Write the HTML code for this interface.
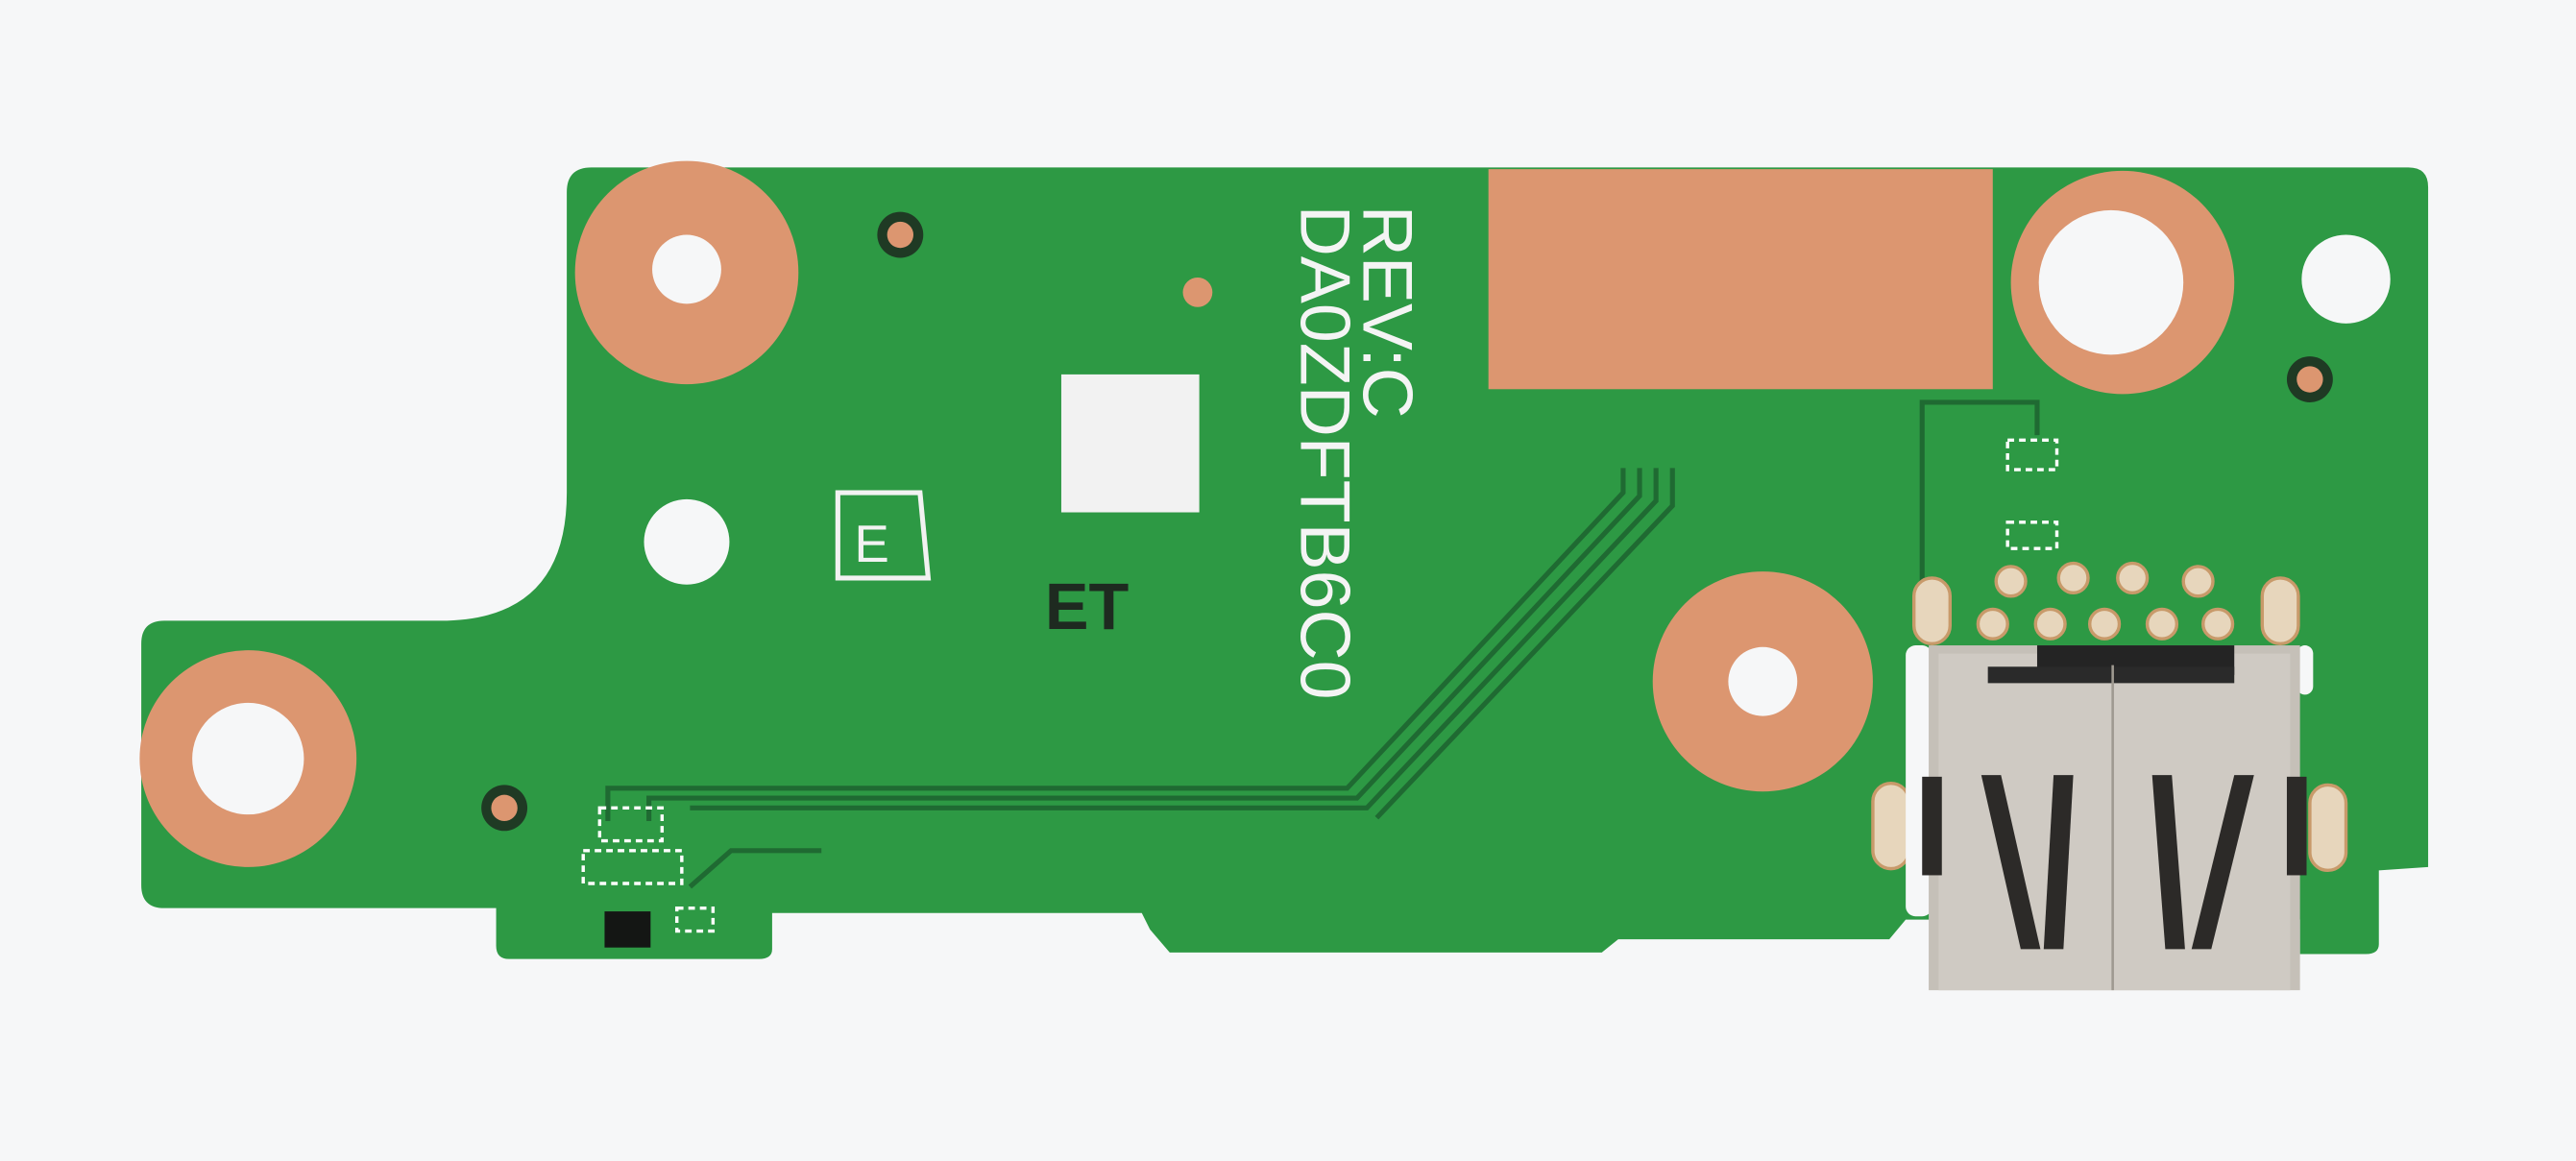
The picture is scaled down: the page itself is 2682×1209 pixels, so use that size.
<!DOCTYPE html>
<html><head><meta charset="utf-8"><style>
html,body{margin:0;padding:0;background:#f6f7f8;}
svg{display:block;}
</style></head><body>
<svg width="2682" height="1209" viewBox="0 0 1568 707" preserveAspectRatio="none" xmlns="http://www.w3.org/2000/svg">
<rect width="1568" height="707" fill="#f6f7f8"/>
<path d="M360 102 L1466 102 Q1478 102 1478 114 L1478 528 L1448 530 L1448 575 Q1448 581 1440 581 L1400 581 L1400 560 L1160 560 L1150 572 L985 572 L975 580 L712 580 L700 566 L695 556 L470 556 L470 578 Q470 584 462 584 L310 584 Q302 584 302 576 L302 553 L100 553 Q86 553 86 539 L86 392 Q86 378 100 378 L268 378 Q345 378 345 300 L345 117 Q345 102 360 102 Z" fill="#2d9944"/>
<circle cx="418" cy="166" r="68" fill="#dc9670"/><circle cx="418" cy="164" r="21" fill="#f6f7f8"/>
<circle cx="151" cy="462" r="66" fill="#dc9670"/><circle cx="151" cy="462" r="34" fill="#f6f7f8"/>
<circle cx="1073" cy="415" r="67" fill="#dc9670"/><circle cx="1073" cy="415" r="21" fill="#f6f7f8"/>
<circle cx="1292" cy="172" r="68" fill="#dc9670"/><circle cx="1285" cy="172" r="44" fill="#f6f7f8"/>
<circle cx="1428" cy="170" r="27" fill="#f6f7f8"/>
<circle cx="418" cy="330" r="26" fill="#f6f7f8"/>
<rect x="906" y="103" width="307" height="134" fill="#dc9670"/>
<circle cx="548" cy="143" r="14" fill="#1f3a24"/><circle cx="548" cy="143" r="8" fill="#dc9670"/>
<circle cx="729" cy="178" r="9" fill="#dc9670"/>
<circle cx="1406" cy="231" r="14" fill="#1f3a24"/><circle cx="1406" cy="231" r="8" fill="#dc9670"/>
<circle cx="307" cy="492" r="14" fill="#1f3a24"/><circle cx="307" cy="492" r="8" fill="#dc9670"/>
<rect x="646" y="228" width="84" height="84" fill="#f2f2f2"/>
<path d="M510 300 L560 300 L565 352 L510 352 Z" fill="none" stroke="#f2f2f2" stroke-width="3"/>
<text x="520" y="342" font-family="Liberation Sans, sans-serif" font-size="32" fill="#f2f2f2">E</text>
<text x="636" y="383" font-family="Liberation Sans, sans-serif" font-size="40" font-weight="bold" fill="#1e2a20">ET</text>
<g font-family="Liberation Sans, sans-serif" font-size="43" fill="#f4f4f4">
<text transform="translate(830,125) rotate(90)">REV:C</text>
<text transform="translate(792,125) rotate(90)">DA0ZDFTB6C0</text>
</g>
<g fill="none" stroke="#1f6a32" stroke-width="3">
<path d="M988 285 L988 300 L820 480 L370 480 L370 500"/>
<path d="M998 285 L998 302 L826 486 L395 486 L395 500"/>
<path d="M1008 285 L1008 305 L832 492 L420 492"/>
<path d="M1018 285 L1018 308 L838 498"/>
<path d="M500 518 L445 518 L420 540"/>
<path d="M1170 380 L1170 245 L1240 245 L1240 265"/>
</g>
<g fill="none" stroke="#ffffff" stroke-width="2" stroke-dasharray="4 3">
<rect x="365" y="492" width="38" height="20"/><rect x="355" y="518" width="60" height="20"/>
<rect x="1222" y="268" width="30" height="18"/><rect x="1222" y="318" width="30" height="16"/>
<rect x="412" y="553" width="22" height="14"/>
</g>
<rect x="368" y="555" width="28" height="22" fill="#141614"/>
<g fill="#e7d6bc" stroke="#c89a6a" stroke-width="2">
<circle cx="1224" cy="354" r="9"/><circle cx="1262" cy="352" r="9"/><circle cx="1298" cy="352" r="9"/><circle cx="1338" cy="354" r="9"/>
<circle cx="1213" cy="380" r="9"/><circle cx="1248" cy="380" r="9"/><circle cx="1281" cy="380" r="9"/><circle cx="1316" cy="380" r="9"/><circle cx="1350" cy="380" r="9"/>
<rect x="1165" y="352" width="22" height="40" rx="11"/><rect x="1377" y="352" width="22" height="40" rx="11"/>
<rect x="1140" y="477" width="22" height="52" rx="11"/><rect x="1406" y="478" width="22" height="52" rx="11"/>
</g>
<rect x="1160" y="393" width="16" height="165" rx="6" fill="#f6f7f8"/>
<rect x="1398" y="393" width="10" height="30" rx="5" fill="#f6f7f8"/>
<rect x="1174" y="393" width="226" height="210" fill="#c5c0b8"/>
<rect x="1180" y="398" width="214" height="205" fill="#cfcac3"/>
<rect x="1240" y="393" width="120" height="18" fill="#242424"/>
<rect x="1210" y="406" width="150" height="10" fill="#2a2a2a"/>
<line x1="1286" y1="405" x2="1286" y2="603" stroke="#9e9990" stroke-width="1.5"/>
<g fill="#2c2a28">
<path d="M1206 472 L1218 472 L1242 578 L1230 578 Z"/><path d="M1250 472 L1262 472 L1256 578 L1244 578 Z"/>
<path d="M1310 472 L1322 472 L1330 578 L1318 578 Z"/><path d="M1360 472 L1372 472 L1346 578 L1334 578 Z"/>
<rect x="1170" y="473" width="12" height="60"/><rect x="1392" y="473" width="12" height="60"/>
</g>
</svg>
</body></html>
